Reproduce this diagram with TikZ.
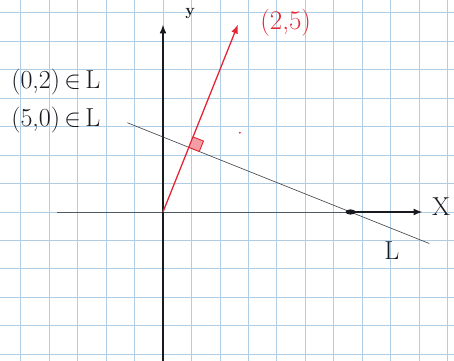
\documentclass[tikz,border=0pt]{standalone}
\usetikzlibrary{arrows.meta}
\definecolor{gridblue}{RGB}{175,205,228}
\definecolor{penred}{RGB}{228,38,52}
\definecolor{ink}{RGB}{25,25,32}
\begin{document}
\begin{tikzpicture}[x=37.5pt,y=37.5pt,
  gridline/.style={gridblue, line width=0.8pt},
  axis/.style={ink, line width=1.5pt},
  thinaxis/.style={black!55!gridblue, line width=0.9pt},
  lineL/.style={ink!85, line width=0.6pt},
  vec/.style={penred, line width=1.3pt},
  tip/.style={-{Latex[length=9pt,width=7pt]}},
  lbl/.style={font=\fontsize{26}{28}\selectfont, inner sep=0pt, text=ink},
  redlbl/.style={font=\fontsize{27}{29}\selectfont, inner sep=0pt, text=penred}]
\useasboundingbox (-4.347,-3.973) rectangle (7.76,5.653);
\fill[white] (-4.347,-3.973) rectangle (7.76,5.653);
\draw[gridline] (-4.347,-3.973) grid (7.76,5.653);
% points
\coordinate (O) at (0,0);
\coordinate (xl) at (-2.83,0);
\coordinate (xr) at (6.92,0);
\coordinate (yb) at (0,-4.1);
\coordinate (yt) at (0,5.0);
\coordinate (P) at (2,5);
\coordinate (A) at (5,0);
\coordinate (L1) at (-0.95,2.38);
\coordinate (L2) at (7.1,-0.84);
\coordinate (F) at (0.6897,1.7241);
\coordinate (Fu) at (0.801,2.003);
\coordinate (Fuv) at (1.080,1.892);
\coordinate (Fv) at (0.968,1.613);
\coordinate (S) at (2.05,2.11);
% axes
\draw[thinaxis] (xl) -- (A);
\draw[axis, tip] (A) -- (xr);
\draw[axis, tip] (yb) -- (yt);
% line L
\draw[lineL] (L1) -- (L2);
% vector
\draw[vec, tip] (O) -- (P);
% right-angle mark
\filldraw[penred, fill=penred!45, line width=0.9pt] (F) -- (Fu) -- (Fuv) -- (Fv) -- cycle;
% dots
\fill[ink] (A) ellipse (5pt and 2.6pt);
\fill[penred] (S) circle (1pt);
% labels
\node[lbl, anchor=west] (t1) at (-4.05,3.47) {(0,2)\,$\in$\,L};
\node[lbl, anchor=west] (t2) at (-4.05,2.45) {(5,0)\,$\in$\,L};
\node[redlbl, anchor=west] (t3) at (2.59,5.04) {(2,5)};
\node[lbl] (tx) at (7.42,0.13) {X};
\node[lbl] (tL) at (6.1,-1.03) {L};
\node[lbl, font=\bfseries\fontsize{16}{17}\selectfont] (ty) at (0.72,5.28) {y};
\end{tikzpicture}
\end{document}
